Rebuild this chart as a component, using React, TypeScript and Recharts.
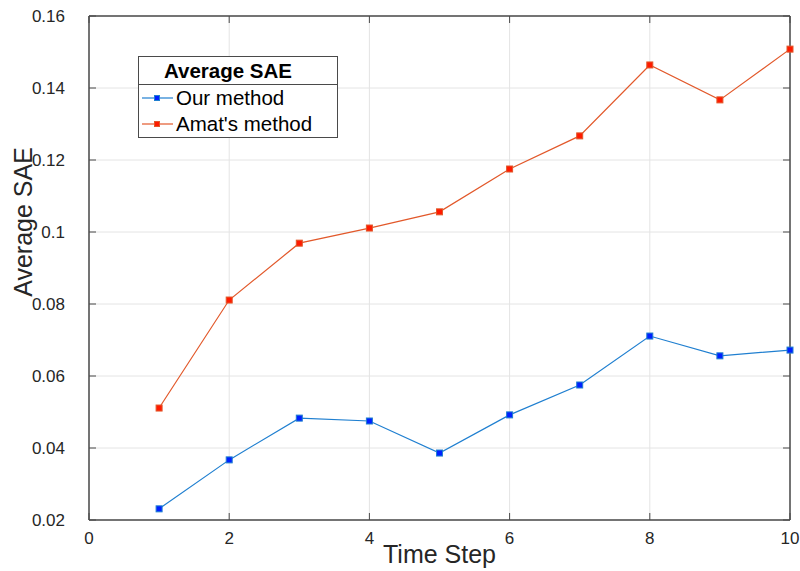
import { LineChart, Line, XAxis, YAxis, CartesianGrid, Legend, Label, ReferenceLine } from 'recharts';

const timeSteps = [1, 2, 3, 4, 5, 6, 7, 8, 9, 10];
const ourMethod = [0.0231, 0.0367, 0.0483, 0.0475, 0.0386, 0.0492, 0.0575, 0.0711, 0.0656, 0.0672];
const amatMethod = [0.0511, 0.0811, 0.0969, 0.1011, 0.1056, 0.1175, 0.1267, 0.1464, 0.1367, 0.1508];
const xTicks = [0, 2, 4, 6, 8, 10];
const yTicks = [0.02, 0.04, 0.06, 0.08, 0.1, 0.12, 0.14, 0.16];

const data = timeSteps.map((t, i) => ({ t, our: ourMethod[i], amat: amatMethod[i] }));

const FONT = '"Liberation Sans", Arial, Helvetica, sans-serif';
const AXIS = '#4a4a4a';
const TEXT = '#262626';

const W = 800;
const H = 571;
const MARGIN = { top: 16, right: 10, left: 0, bottom: 0 };
const Y_W = 89;
const X_H = 51;
const PLOT_LEFT = MARGIN.left + Y_W;
const PLOT_RIGHT = W - MARGIN.right;
const PLOT_TOP = MARGIN.top;
const PLOT_BOTTOM = H - X_H;
const TICK = 7;

const series = [
  { key: 'our', name: 'Our method', line: '#1f7fd0', marker: '#0020ff' },
  { key: 'amat', name: "Amat's method", line: '#e2582a', marker: '#ff1a00' },
];

const squareDot = (fill: string, stroke: string) => (props: any) => {
  const { cx, cy, index } = props;
  if (cx == null || cy == null) return <g key={index} />;
  return (
    <rect key={index} x={cx - 3} y={cy - 3} width={6} height={6} fill={fill} stroke={stroke} strokeWidth={1} />
  );
};

const fmt = (v: number) => String(Number(v.toFixed(2)));

// x tick: label below the axis plus inward marks on the bottom and top edges
const XTick = (props: any) => {
  const { x, y, payload } = props;
  return (
    <g>
      <line x1={x} x2={x} y1={PLOT_BOTTOM} y2={PLOT_BOTTOM - TICK} stroke={AXIS} />
      <line x1={x} x2={x} y1={PLOT_TOP} y2={PLOT_TOP + TICK} stroke={AXIS} />
      <text x={x} y={y} dy="0.71em" textAnchor="middle" fill={TEXT} fontSize={17} fontFamily={FONT}>
        {fmt(payload.value)}
      </text>
    </g>
  );
};

// y tick: label left of the axis plus inward marks on the left and right edges
const YTick = (props: any) => {
  const { x, y, payload } = props;
  return (
    <g>
      <line x1={PLOT_LEFT} x2={PLOT_LEFT + TICK} y1={y} y2={y} stroke={AXIS} />
      <line x1={PLOT_RIGHT} x2={PLOT_RIGHT - TICK} y1={y} y2={y} stroke={AXIS} />
      <text x={x} y={y} dy="0.355em" textAnchor="end" fill={TEXT} fontSize={17} fontFamily={FONT}>
        {fmt(payload.value)}
      </text>
    </g>
  );
};

const renderLegend = () => (
  <div style={{ border: `1px solid ${AXIS}`, background: '#fff', width: 198, fontFamily: FONT, color: '#000' }}>
    <div
      style={{
        fontWeight: 'bold',
        fontSize: 20.5,
        textAlign: 'center',
        height: 27,
        lineHeight: '27px',
        borderBottom: `1px solid ${AXIS}`,
        paddingRight: 20,
      }}
    >
      Average SAE
    </div>
    {series.map((s) => (
      <div key={s.key} style={{ display: 'flex', alignItems: 'center', height: 26 }}>
        <svg width={37} height={10} style={{ display: 'block' }}>
          <line x1={3} x2={34} y1={5} y2={5} stroke={s.line} strokeWidth={1.2} />
          <rect x={15.5} y={2.5} width={5} height={5} fill={s.marker} stroke={s.line} strokeWidth={1} />
        </svg>
        <span style={{ fontSize: 20.5, lineHeight: '26px' }}>{s.name}</span>
      </div>
    ))}
  </div>
);

export default function App() {
  return (
    <div style={{ position: 'absolute', left: 0, top: 0, width: W, height: H, background: '#fff' }}>
      <LineChart width={W} height={H} data={data} margin={MARGIN}>
        <CartesianGrid stroke="#e4e4e4" strokeWidth={1} />
        <XAxis
          dataKey="t"
          type="number"
          domain={[0, 10]}
          ticks={xTicks}
          interval={0}
          height={X_H}
          tickLine={false}
          tickSize={0}
          tickMargin={12}
          axisLine={{ stroke: AXIS, strokeWidth: 1.5 }}
          tick={XTick}
        >
          <Label value="Time Step" position="insideBottom" offset={8} fill={TEXT} fontSize={25} fontFamily={FONT} />
        </XAxis>
        <YAxis
          type="number"
          domain={[0.02, 0.16]}
          ticks={yTicks}
          interval={0}
          width={Y_W}
          tickLine={false}
          tickSize={0}
          tickMargin={24}
          axisLine={{ stroke: AXIS, strokeWidth: 1.5 }}
          tick={YTick}
        >
          <Label
            content={(props: any) => {
              const vb = props.viewBox || { x: 0, y: PLOT_TOP, width: Y_W, height: PLOT_BOTTOM - PLOT_TOP };
              const x = vb.x + 32;
              const y = vb.y + vb.height / 2 - 46;
              return (
                <text
                  x={x}
                  y={y}
                  transform={`rotate(-90 ${x} ${y})`}
                  textAnchor="middle"
                  fill={TEXT}
                  fontSize={25}
                  fontFamily={FONT}
                >
                  Average SAE
                </text>
              );
            }}
          />
        </YAxis>
        <ReferenceLine y={0.16} stroke={AXIS} strokeWidth={1.5} />
        <ReferenceLine x={10} stroke={AXIS} strokeWidth={1.5} />
        <Legend
          layout="vertical"
          align="center"
          verticalAlign="middle"
          content={renderLegend}
          wrapperStyle={{ left: 138, top: 56, width: 200 }}
        />
        {series.map((s) => (
          <Line
            key={s.key}
            dataKey={s.key}
            name={s.name}
            type="linear"
            stroke={s.line}
            strokeWidth={1.2}
            dot={squareDot(s.marker, s.line)}
            activeDot={false}
            isAnimationActive={false}
          />
        ))}
      </LineChart>
    </div>
  );
}
